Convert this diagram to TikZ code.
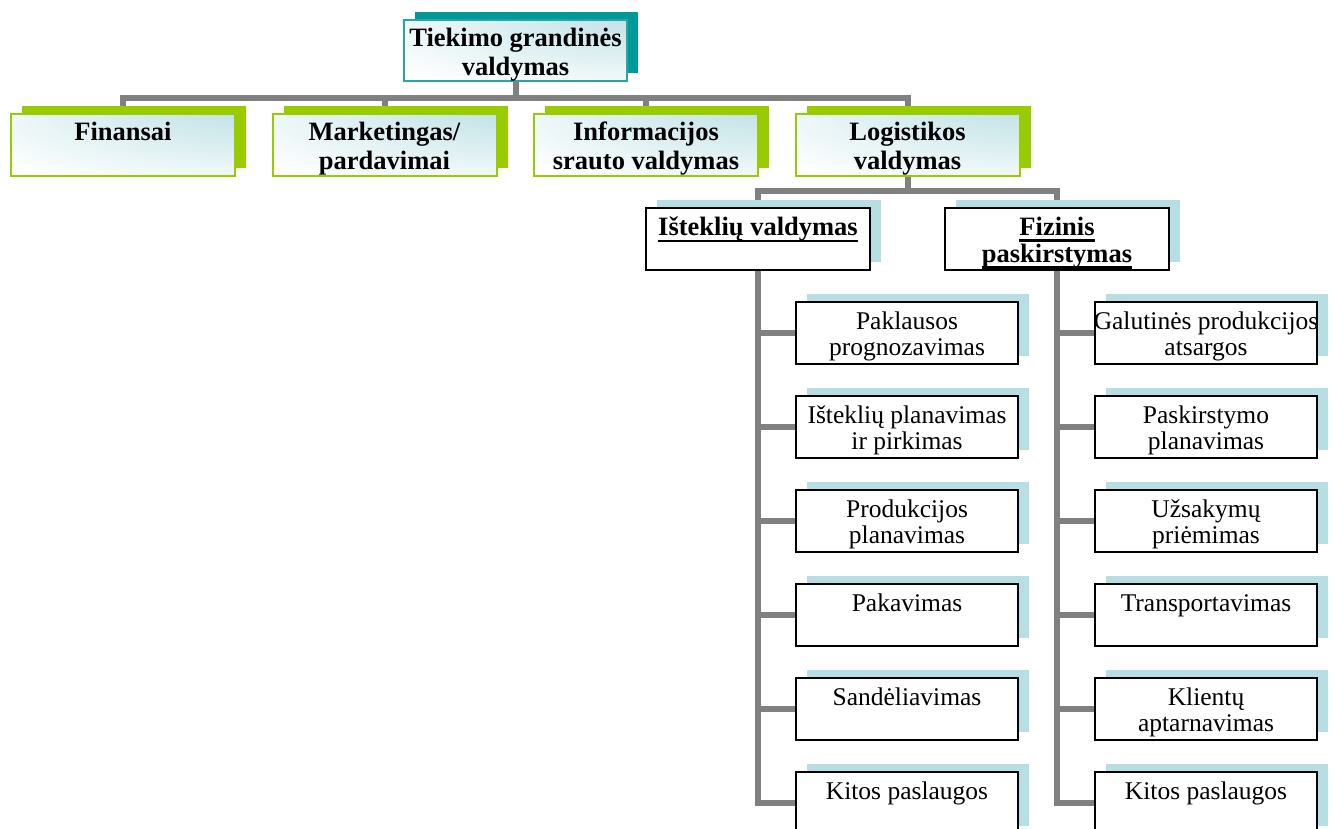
\documentclass[tikz,border=0pt]{standalone}
\usepackage{fontspec}
\setmainfont{Liberation Serif}
\usetikzlibrary{shadows,backgrounds}

\definecolor{linkgray}{RGB}{128,128,128}
\definecolor{teal}{RGB}{0,153,153}
\definecolor{tealedge}{RGB}{40,165,165}
\definecolor{leafgreen}{RGB}{153,204,0}
\definecolor{paleblue}{RGB}{183,222,226}
\definecolor{shadecyan}{RGB}{182,221,226}

% soft glow in the upper right corner of the coloured boxes
\pgfdeclareradialshading{cornerglow}{\pgfpoint{42bp}{48bp}}{%
  color(0bp)=(shadecyan); color(8bp)=(shadecyan);
  color(58bp)=(white); color(100bp)=(white)}

% strut fixing the height of the first text line
\newcommand\ascstrut{\rule{0pt}{18pt}}
% heavy underline used in the section titles
\newcommand\ulbar[1]{\sbox0{#1}\rlap{\rule[-6.5pt]{\wd0}{2.5pt}}\usebox0}

\tikzset{
  conn/.style={draw=linkgray, line width=6pt},
  basebox/.style={rectangle, inner sep=0pt},
  gradfill/.style={shading=cornerglow},
  rootbox/.style={basebox, gradfill, draw=tealedge, line width=2pt,
    minimum width=223pt, minimum height=61pt,
    general shadow={fill=teal, shadow xshift=11pt, shadow yshift=8pt}},
  areabox/.style={basebox, gradfill, draw=leafgreen, line width=2pt,
    minimum width=224pt, minimum height=62pt,
    general shadow={fill=leafgreen, shadow xshift=11pt, shadow yshift=8pt}},
  partbox/.style={basebox, fill=white, draw=black, line width=2.2pt,
    minimum width=224pt, minimum height=62pt,
    general shadow={fill=paleblue, shadow xshift=11pt, shadow yshift=8pt}},
  taskbox/.style={basebox, fill=white, draw=black, line width=1.8pt,
    minimum width=222pt, minimum height=62pt,
    general shadow={fill=paleblue, shadow xshift=11pt, shadow yshift=8pt}},
  boldtext/.style={anchor=north, inner sep=0pt, align=center,
    font=\fontsize{26.5}{29}\selectfont\bfseries},
  plaintext/.style={anchor=north, inner sep=0pt, align=center,
    font=\fontsize{25.5}{26.5}\selectfont},
}

\begin{document}
\begin{tikzpicture}[x=1pt,y=-1pt]
\clip (0,0) rectangle (1333,829);

% root
\node[rootbox] (root) at (515.5,50.5) {};
\node[boldtext] (rootT) at ([yshift=-9pt]root.north) {\ascstrut Tiekimo grandinės\\valdymas};

% functional areas
\node[areabox] (fin)  at (123,145)   {};
\node[areabox] (mark) at (384.5,145) {};
\node[areabox] (info) at (646,145)   {};
\node[areabox] (logi) at (907.5,145) {};
\node[boldtext] (finT)  at ([yshift=-9pt]fin.north)  {\ascstrut Finansai};
\node[boldtext] (markT) at ([yshift=-9pt]mark.north) {\ascstrut Marketingas/\\pardavimai};
\node[boldtext] (infoT) at ([yshift=-9pt]info.north) {\ascstrut Informacijos\\srauto valdymas};
\node[boldtext] (logiT) at ([yshift=-9pt]logi.north) {\ascstrut Logistikos\\valdymas};

% logistics parts
\node[partbox] (ist) at (758,239)  {};
\node[partbox] (fiz) at (1057,239) {};
\node[boldtext, font=\fontsize{26.5}{27}\selectfont\bfseries] (istT) at ([yshift=-10pt]ist.north) {\ascstrut\ulbar{Išteklių valdymas}};
\node[boldtext, font=\fontsize{26.5}{27}\selectfont\bfseries] (fizT) at ([yshift=-10pt]fiz.north) {\ascstrut\ulbar{Fizinis}\\\ulbar{paskirstymas}};

% tasks of resource management
\foreach \n/\txt [count=\k from 0] in {
    a1/{Paklausos\\prognozavimas},
    a2/{Išteklių planavimas\\ir pirkimas},
    a3/{Produkcijos\\planavimas},
    a4/{Pakavimas},
    a5/{Sandėliavimas},
    a6/{Kitos paslaugos}} {
  \node[taskbox] (\n) at (907,333+94*\k) {};
  \node[plaintext] (\n T) at ([yshift=-10pt]\n.north) {\ascstrut\txt};
}

% tasks of physical distribution
\foreach \n/\txt [count=\k from 0] in {
    b1/{Galutinės produkcijos\\atsargos},
    b2/{Paskirstymo\\planavimas},
    b3/{Užsakymų\\priėmimas},
    b4/{Transportavimas},
    b5/{Klientų\\aptarnavimas},
    b6/{Kitos paslaugos}} {
  \node[taskbox] (\n) at (1206,333+94*\k) {};
  \node[plaintext] (\n T) at ([yshift=-10pt]\n.north) {\ascstrut\txt};
}

% connectors
\begin{scope}[on background layer]
  \coordinate (busA) at (515.5,98);
  \draw[conn] (root.south) -- (busA);
  \foreach \c in {fin,mark,info,logi} \draw[conn] (busA) -| (\c.north);
  \coordinate (busB) at (907.5,191);
  \draw[conn] (logi.south) -- (busB);
  \foreach \c in {ist,fiz} \draw[conn] (busB) -| (\c.north);
  \foreach \c in {a1,a2,a3,a4,a5,a6} \draw[conn] (ist.south) |- (\c.west);
  \foreach \c in {b1,b2,b3,b4,b5,b6} \draw[conn] (fiz.south) |- (\c.west);
\end{scope}
\end{tikzpicture}
\end{document}
